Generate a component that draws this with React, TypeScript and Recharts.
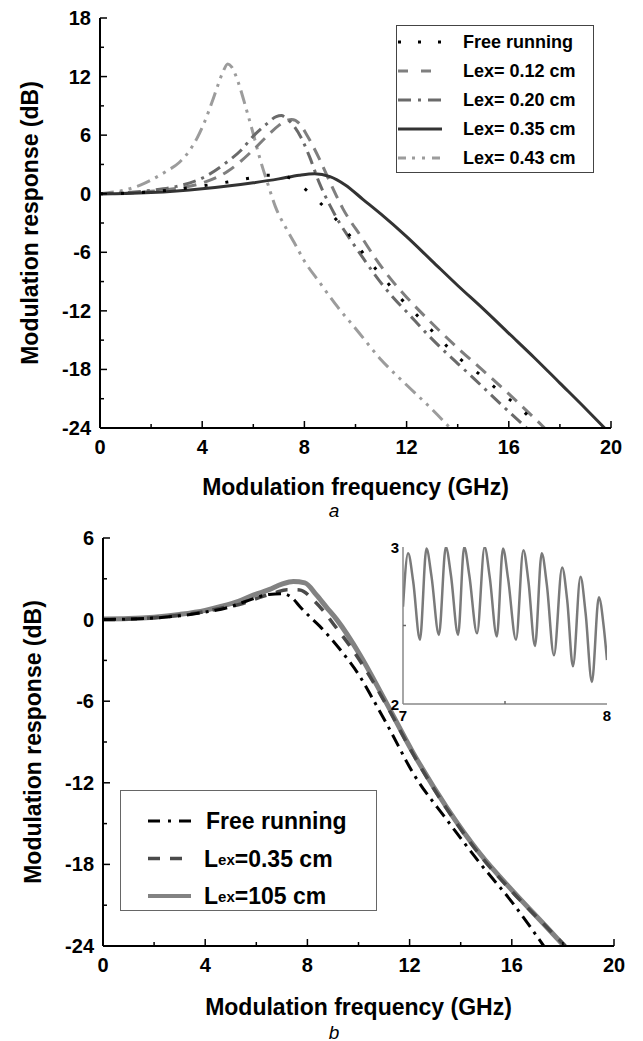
import React from 'react';
import { LineChart, Line, XAxis, YAxis, Legend } from 'recharts';

type Pt = [number, number];

// ---------- Panel a : modulation response (GHz, dB) ----------
const topFreeRunning: Pt[] = [[0,0],[1,0.05],[2,0.2],[3,0.45],[4,0.8],[5,1.2],[6,1.65],[6.6,1.9],[7.1,1.9],[7.5,1.5],[7.85,0.85],[8.6,-0.9],[9.3,-2.8],[9.9,-4.7],[10.5,-6.8],[11.15,-8.8],[11.8,-10.8],[12.5,-12.7],[13.2,-14.6],[14,-16.7],[14.9,-18.6],[15.7,-20.4],[16.5,-22.1],[17.2,-24]];
const topLex012: Pt[] = [[0,0],[1,0.05],[2,0.25],[3,0.55],[4,1.1],[5,2.3],[5.5,3.3],[6,4.5],[6.5,5.8],[7,7.0],[7.3,7.5],[7.5,7.6],[7.8,7.2],[8.1,6.0],[8.6,3.5],[9,1.2],[9.5,-1.5],[10.3,-4.7],[10.8,-6.7],[11.4,-8.8],[12,-10.6],[13,-13.3],[14,-15.8],[15.2,-18.6],[16,-20.5],[17.4,-24]];
const topLex020: Pt[] = [[0,0],[1,0.1],[2,0.35],[3,0.75],[4,1.6],[5,3.3],[5.5,4.4],[6,5.9],[6.5,7.1],[6.9,7.9],[7.1,8.0],[7.3,7.7],[7.6,6.9],[7.9,5.6],[8.2,3.8],[8.6,1.0],[9,-1.2],[9.4,-3.1],[9.8,-4.7],[10.3,-6.6],[10.9,-8.8],[11.5,-10.7],[12,-12.1],[13,-14.9],[14,-17.4],[14.5,-18.6],[15.5,-21.1],[16.7,-24]];
const topLex035: Pt[] = [[0,0],[1,0.03],[2,0.12],[3,0.28],[4,0.5],[5,0.78],[6,1.12],[7,1.52],[7.8,1.9],[8.4,2.05],[9,1.75],[9.6,0.9],[10.3,-0.6],[11,-2.1],[12,-4.4],[13,-6.9],[14,-9.4],[15,-11.8],[16,-14.3],[17,-16.8],[18,-19.4],[19,-22.0],[19.75,-24]];
const topLex043: Pt[] = [[0,0],[1,0.4],[1.6,0.9],[2,1.4],[2.6,2.3],[3.1,3.2],[3.5,4.4],[3.8,5.7],[4.1,7.4],[4.4,9.5],[4.6,11.0],[4.8,12.4],[5,13.3],[5.15,13.0],[5.3,12.2],[5.5,10.7],[5.7,8.9],[5.95,6.6],[6.27,3.5],[6.6,0.75],[6.86,-1.3],[7.3,-3.6],[7.6,-5.0],[8,-6.9],[8.6,-9.1],[9.3,-11.6],[10,-13.8],[11,-17.0],[12,-19.6],[13,-22.1],[13.7,-24]];

// ---------- Panel b ----------
const botFreeRunning: Pt[] = [[0,0],[1,0.04],[2,0.12],[3,0.28],[4,0.55],[5,0.95],[5.6,1.35],[6.5,1.85],[7.05,1.9],[7.4,1.6],[7.71,0.95],[8.1,0.2],[8.49,-0.5],[9.28,-2.2],[10.06,-4.2],[10.58,-5.9],[11.2,-8.0],[12.14,-11.3],[13.45,-14.7],[14.75,-17.9],[16.06,-20.9],[17.25,-24]];
const botLex035: Pt[] = [[0,0],[1,0.04],[2,0.14],[3,0.32],[4,0.6],[4.6,0.83],[5.5,1.2],[6.14,1.64],[6.7,1.95],[7.2,2.2],[7.7,2.18],[8.23,1.44],[8.6,0.7],[9.01,-0.3],[9.8,-2.3],[10.58,-4.6],[11.1,-6.3],[12.14,-9.9],[13.45,-13.9],[14.75,-17.3],[16.06,-20.1],[17.36,-22.6],[18.1,-24]];
const botLex105: Pt[] = [[0,0.05],[1,0.08],[2,0.18],[3,0.38],[4,0.68],[4.58,0.95],[5.3,1.35],[5.88,1.8],[6.5,2.2],[7,2.6],[7.45,2.8],[7.9,2.7],[8.36,1.8],[8.75,0.9],[9.15,0],[10.06,-2.6],[10.97,-5.7],[12.14,-9.8],[13.45,-13.8],[14.75,-17.2],[16.06,-20.0],[17.36,-22.6],[18.05,-24]];

// ---------- Inset (7-8 GHz, 2-3 dB) ----------
const insetLex105: Pt[] = [[7.0,2.62],[7.025,2.96],[7.05,2.78],[7.083,2.41],[7.115,2.99],[7.14,2.81],[7.176,2.44],[7.21,3.0],[7.235,2.82],[7.27,2.44],[7.3,3.0],[7.325,2.82],[7.363,2.45],[7.4,3.0],[7.425,2.81],[7.46,2.43],[7.49,2.99],[7.515,2.8],[7.554,2.41],[7.59,2.98],[7.615,2.78],[7.647,2.37],[7.68,2.96],[7.705,2.76],[7.74,2.31],[7.78,2.87],[7.805,2.66],[7.833,2.24],[7.87,2.81],[7.895,2.58],[7.926,2.14],[7.96,2.68],[7.985,2.48],[8.0,2.28]];

// ---------- Ticks ----------
const xTicks = [0,2,4,6,8,10,12,14,16,18,20];
const topYTicks = [-24,-21,-18,-15,-12,-9,-6,-3,0,3,6,9,12,15,18];
const botYTicks = [-24,-21,-18,-15,-12,-9,-6,-3,0,3,6];
const insetXTicks = [7,7.5,8];
const insetYTicks = [2,2.5,3];

const topNames = ['Free running','Lex= 0.12 cm','Lex= 0.20 cm','Lex= 0.35 cm','Lex= 0.43 cm'];
const botNames = ['Free running','0.35 cm','105 cm'];

const FONT = '"Liberation Sans", Arial, Helvetica, sans-serif';

const toXY = (pts: Pt[]) => pts.map(([x, y]) => ({ x, y }));

const topSeries = [
  { name: topNames[0], data: topFreeRunning, color: '#000000', width: 3, dash: '3 18', legendDash: '3 17' },
  { name: topNames[1], data: topLex012, color: '#7f7f7f', width: 3, dash: '13 8', legendDash: '10 13' },
  { name: topNames[2], data: topLex020, color: '#6a6a6a', width: 3, dash: '13 6 3 6', legendDash: '13 7 3 7' },
  { name: topNames[3], data: topLex035, color: '#333333', width: 3, dash: undefined as string | undefined, legendDash: undefined as string | undefined },
  { name: topNames[4], data: topLex043, color: '#9c9c9c', width: 3, dash: '14 6 3 6 3 6', legendDash: '8 6 3 7 3 7' },
];
const topDrawOrder = [4, 1, 2, 3, 0];

const botSeries = [
  { name: botNames[0], data: botFreeRunning, color: '#000000', width: 3, dash: '13 6 3 6', legendDash: '12 8 3 8' },
  { name: botNames[1], data: botLex035, color: '#4a4a4a', width: 3.5, dash: '12 10', legendDash: '12 10' },
  { name: botNames[2], data: botLex105, color: '#828282', width: 5, dash: undefined as string | undefined, legendDash: undefined as string | undefined },
];
const botDrawOrder = [2, 1, 0];

const makeXTick = (labelStep: number, majorLen: number, minorLen: number, fs: number, dy: number, color: string) => (props: any) => {
  const { x, y, payload } = props;
  const v = payload.value as number;
  const isLabel = Math.abs(v / labelStep - Math.round(v / labelStep)) < 1e-6;
  const len = isLabel ? majorLen : minorLen;
  return (
    <g>
      {len > 0 && <line x1={x} x2={x} y1={y} y2={y - len} stroke={color} strokeWidth={1.5} />}
      {isLabel && (
        <text x={x} y={y + dy} textAnchor="middle" dominantBaseline="central" fontFamily={FONT} fontWeight="bold" fontSize={fs} fill="#000">{v}</text>
      )}
    </g>
  );
};

const makeYTick = (labelStep: number, majorLen: number, minorLen: number, fs: number, dx: number, color: string) => (props: any) => {
  const { x, y, payload } = props;
  const v = payload.value as number;
  const isLabel = Math.abs(v / labelStep - Math.round(v / labelStep)) < 1e-6;
  const len = isLabel ? majorLen : minorLen;
  return (
    <g>
      {len > 0 && <line x1={x} x2={x + len} y1={y} y2={y} stroke={color} strokeWidth={1.5} />}
      {isLabel && (
        <text x={x - dx} y={y} textAnchor="end" dominantBaseline="central" fontFamily={FONT} fontWeight="bold" fontSize={fs} fill="#000">{v}</text>
      )}
    </g>
  );
};

const yTitle = (p: any) => {
  const vb = p.viewBox;
  const cx = vb.x + 30;
  const cy = vb.y + vb.height / 2;
  return (
    <text transform={`translate(${cx}, ${cy}) rotate(-90)`} textAnchor="middle" dominantBaseline="central" fontFamily={FONT} fontWeight="bold" fontSize={23} fill="#000">
      Modulation response (dB)
    </text>
  );
};

const xTitle = (caption: string, titleDy: number, capDy: number, capX: number) => (p: any) => {
  const vb = p.viewBox;
  return (
    <g>
      <text x={vb.x + vb.width / 2} y={vb.y + titleDy} textAnchor="middle" dominantBaseline="central" fontFamily={FONT} fontWeight="bold" fontSize={23} fill="#000">
        Modulation frequency (GHz)
      </text>
      <text x={capX} y={vb.y + capDy} textAnchor="middle" dominantBaseline="central" fontFamily={FONT} fontStyle="italic" fontSize={19} fill="#000">
        {caption}
      </text>
    </g>
  );
};

const TopLegend = () => (
  <div style={{ width: 198, height: 148, border: '1.5px solid #444', boxSizing: 'border-box', background: '#fff' }}>
    <svg width={195} height={145} style={{ display: 'block' }}>
      {topSeries.map((s, i) => {
        const cy = 16 + i * 29;
        return (
          <g key={s.name}>
            <line x1={1} x2={45} y1={cy} y2={cy} stroke={s.color} strokeWidth={s.width} strokeDasharray={s.legendDash} />
            <text x={66} y={cy} dominantBaseline="central" fontFamily={FONT} fontWeight="bold" fontSize={18} fill="#000">{s.name}</text>
          </g>
        );
      })}
    </svg>
  </div>
);

const BotLegend = () => (
  <div style={{ width: 257, height: 121, border: '1.5px solid #666', boxSizing: 'border-box', background: '#fff' }}>
    <svg width={254} height={118} style={{ display: 'block' }}>
      {botSeries.map((s, i) => {
        const cy = 30 + i * 37.5;
        return (
          <g key={s.name}>
            <line x1={27} x2={70} y1={cy} y2={cy} stroke={s.color} strokeWidth={i === 2 ? 4 : s.width} strokeDasharray={s.legendDash} />
            {i === 0 ? (
              <text x={85} y={cy} dominantBaseline="central" fontFamily={FONT} fontWeight="bold" fontSize={23} fill="#000">{s.name}</text>
            ) : (
              <text x={83} y={cy} dominantBaseline="central" fontFamily={FONT} fontWeight="bold" fontSize={23} fill="#000">
                L<tspan fontSize={15}>ex</tspan>={s.name}
              </text>
            )}
          </g>
        );
      })}
    </svg>
  </div>
);

export default function App() {
  return (
    <div style={{ position: 'absolute', left: 0, top: 0, width: 643, height: 1041, background: '#fff' }}>
      {/* Panel a */}
      <div style={{ position: 'absolute', left: 0, top: 0 }}>
        <LineChart width={643} height={530} margin={{ top: 18, right: 32, bottom: 0, left: 0 }}>
          <XAxis dataKey="x" type="number" domain={[0, 20]} ticks={xTicks} interval={0} allowDataOverflow
            tickSize={0} tickMargin={0} height={102} axisLine={{ stroke: '#000', strokeWidth: 2 }} tickLine={false}
            tick={makeXTick(4, 7, 4, 20, 19, '#000')} label={{ content: xTitle('a', 59, 82, 334) }} />
          <XAxis xAxisId="t" orientation="top" type="number" domain={[0, 20]} height={0} tick={false} tickLine={false}
            axisLine={{ stroke: '#000', strokeWidth: 2 }} />
          <YAxis type="number" domain={[-24, 18]} ticks={topYTicks} interval={0} allowDataOverflow width={100}
            tickSize={0} tickMargin={0} axisLine={{ stroke: '#000', strokeWidth: 2 }} tickLine={false}
            tick={makeYTick(6, 7, 4, 20, 9, '#000')} label={{ content: yTitle }} />
          <YAxis yAxisId="r" orientation="right" type="number" domain={[-24, 18]} width={0} tick={false} tickLine={false}
            axisLine={{ stroke: '#000', strokeWidth: 2 }} />
          {topDrawOrder.map((i) => {
            const s = topSeries[i];
            return (
              <Line key={s.name} name={s.name} data={toXY(s.data)} dataKey="y" type="monotone" stroke={s.color}
                strokeWidth={s.width} strokeDasharray={s.dash} dot={false} activeDot={false} isAnimationActive={false} />
            );
          })}
          <Legend layout="vertical" align="center" verticalAlign="middle" content={() => <TopLegend />}
            wrapperStyle={{ left: 396, top: 25, width: 198, height: 148 }} />
        </LineChart>
      </div>

      {/* Panel b */}
      <div style={{ position: 'absolute', left: 0, top: 520 }}>
        <LineChart width={643} height={521} margin={{ top: 18, right: 29, bottom: 0, left: 3 }}>
          <XAxis dataKey="x" type="number" domain={[0, 20]} ticks={xTicks} interval={0} allowDataOverflow
            tickSize={0} tickMargin={0} height={95} axisLine={{ stroke: '#000', strokeWidth: 2 }} tickLine={false}
            tick={makeXTick(4, 7, 4, 20, 19, '#000')} label={{ content: xTitle('b', 61, 86, 334) }} />
          <XAxis xAxisId="t" orientation="top" type="number" domain={[0, 20]} height={0} tick={false} tickLine={false}
            axisLine={{ stroke: '#000', strokeWidth: 2 }} />
          <YAxis type="number" domain={[-24, 6]} ticks={botYTicks} interval={0} allowDataOverflow width={100}
            tickSize={0} tickMargin={0} axisLine={{ stroke: '#000', strokeWidth: 2 }} tickLine={false}
            tick={makeYTick(6, 7, 4, 20, 9, '#000')} label={{ content: yTitle }} />
          <YAxis yAxisId="r" orientation="right" type="number" domain={[-24, 6]} width={0} tick={false} tickLine={false}
            axisLine={{ stroke: '#000', strokeWidth: 2 }} />
          {botDrawOrder.map((i) => {
            const s = botSeries[i];
            return (
              <Line key={s.name} name={s.name} data={toXY(s.data)} dataKey="y" type="monotone" stroke={s.color}
                strokeWidth={s.width} strokeDasharray={s.dash} dot={false} activeDot={false} isAnimationActive={false} />
            );
          })}
          <Legend layout="vertical" align="center" verticalAlign="middle" content={() => <BotLegend />}
            wrapperStyle={{ left: 120, top: 270, width: 257, height: 121 }} />
        </LineChart>
      </div>

      {/* Inset */}
      <div style={{ position: 'absolute', left: 380, top: 530 }}>
        <LineChart width={240} height={200} margin={{ top: 17, right: 13, bottom: 6, left: 3 }}>
          <XAxis dataKey="x" type="number" domain={[7, 8]} ticks={insetXTicks} interval={0} allowDataOverflow
            tickSize={0} tickMargin={0} height={20} axisLine={{ stroke: '#888', strokeWidth: 1.5 }} tickLine={false}
            tick={makeXTick(1, 0, 3, 15, 11, '#666')} />
          <XAxis xAxisId="t" orientation="top" type="number" domain={[7, 8]} height={0} tick={false} tickLine={false}
            axisLine={{ stroke: '#888', strokeWidth: 1.5 }} />
          <YAxis type="number" domain={[2, 3]} ticks={insetYTicks} interval={0} allowDataOverflow width={20}
            tickSize={0} tickMargin={0} axisLine={{ stroke: '#888', strokeWidth: 1.5 }} tickLine={false}
            tick={makeYTick(1, 0, 3, 15, 4, '#666')} />
          <YAxis yAxisId="r" orientation="right" type="number" domain={[2, 3]} width={0} tick={false} tickLine={false}
            axisLine={{ stroke: '#888', strokeWidth: 1.5 }} />
          <Line name="inset" data={toXY(insetLex105)} dataKey="y" type="monotone" stroke="#7a7a7a" strokeWidth={2.5}
            dot={false} activeDot={false} isAnimationActive={false} />
        </LineChart>
      </div>
    </div>
  );
}
